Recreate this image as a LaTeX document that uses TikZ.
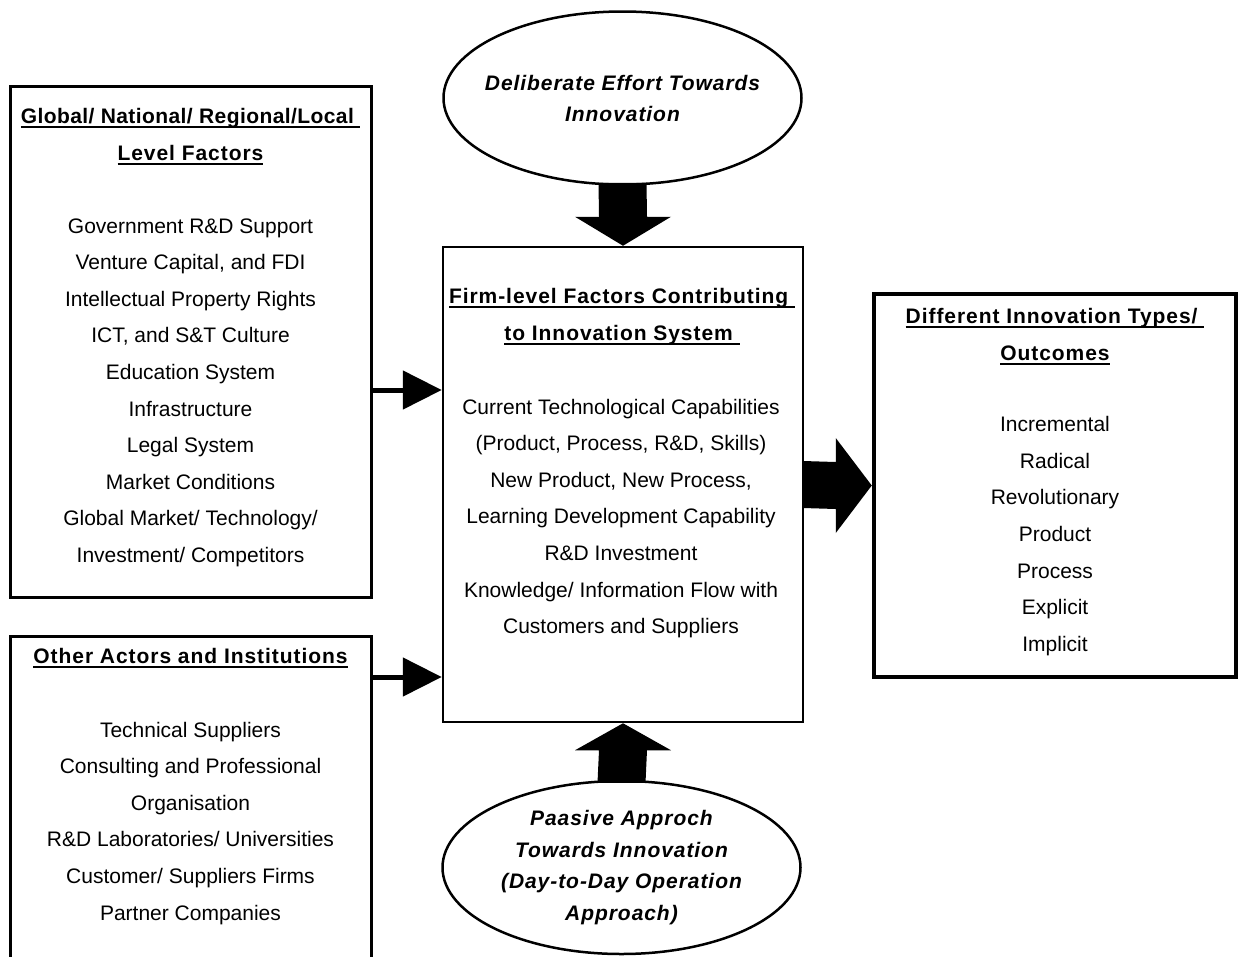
\documentclass[tikz,border=0pt]{standalone}
\usepackage{fontspec}
\setmainfont{Liberation Sans}
\newfontfamily\hdfont{Liberation Sans}[LetterSpace=4.5]
\newfontfamily\hdnarrow{Liberation Sans}[LetterSpace=2]
\usetikzlibrary{shapes.geometric,calc,arrows.meta}
\newcommand\myul[1]{\setbox0\hbox{#1}\rlap{\rule[-4.7pt]{\wd0}{2.2pt}}\box0}
\tikzset{
  box/.style={draw, rectangle, inner sep=0pt, line width=#1},
  oval/.style={draw, ellipse, inner sep=0pt, minimum width=358pt, minimum height=173pt, line width=2.5pt},
  txt/.style={inner sep=0pt, anchor=base, font=\fontsize{21}{25}\selectfont},
  hd/.style={inner sep=0pt, anchor=base, font=\fontsize{21}{25}\selectfont\hdfont\bfseries},
  hdn/.style={inner sep=0pt, anchor=base, font=\fontsize{21}{25}\selectfont\hdnarrow\bfseries},
  hdi/.style={inner sep=0pt, anchor=base, font=\fontsize{21}{25}\selectfont\hdfont\bfseries\itshape},
  thinarr/.style={line width=5pt, line cap=round, -{Triangle[length=39pt,width=38pt]}},
}
\begin{document}
\begin{tikzpicture}[x=1pt,y=-1pt]
\path[use as bounding box] (0,0) rectangle (1239,956);
\clip (0,0) rectangle (1239,956);

% boxes
\node[box=3pt, minimum width=361pt, minimum height=511pt] (lb1) at (190.5,341.5) {};
\node[box=3pt, minimum width=361pt, minimum height=364pt] (lb2) at (190.5,818) {};
\node[box=2.5pt, minimum width=360pt, minimum height=475pt] (ctr) at (623,484.5) {};
\node[box=4.5pt, minimum width=362pt, minimum height=383pt] (rb) at (1055,485.5) {};
\node[oval] (ell1) at (622.5,98) {};
\node[oval] (ell2) at (621.5,867.5) {};

% left box 1
\node[hdn] (h1a) at (190.5,123) {\myul{Global/ National/ Regional/Local\ }};
\node[hd] (h1b) at (190.5,160) {\myul{Level Factors}};
\foreach \t [count=\i] in {Government R\&D Support, {Venture Capital, and FDI}, Intellectual Property Rights, {ICT, and S\&T Culture}, Education System, Infrastructure, Legal System, Market Conditions, Global Market/ Technology/, Investment/ Competitors}
  \node[txt] (lbt\i) at (190.5,{233+36.6*(\i-1)}) {\t};

% left box 2
\node[hd] (h2a) at (190.5,663) {\myul{Other Actors and Institutions}};
\foreach \t [count=\i] in {Technical Suppliers, Consulting and Professional, Organisation, R\&D Laboratories/ Universities, Customer/ Suppliers Firms, Partner Companies}
  \node[txt] (lbb\i) at (190.5,{737+36.6*(\i-1)}) {\t};

% centre box
\node[hd] (hca) at (622,303) {\myul{Firm-level Factors Contributing\ }};
\node[hd] (hcb) at (622,340) {\myul{to Innovation System\ }};
\foreach \t [count=\i] in {Current Technological Capabilities, {(Product, Process, R\&D, Skills)}, {New Product, New Process,}, Learning Development Capability, R\&D Investment, Knowledge/ Information Flow with, Customers and Suppliers}
  \node[txt] (ct\i) at (621,{414+36.6*(\i-1)}) {\t};

% right box
\node[hd] (hra) at (1055,323) {\myul{Different Innovation Types/\ }};
\node[hd] (hrb) at (1055,360) {\myul{Outcomes}};
\foreach \t [count=\i] in {Incremental, Radical, Revolutionary, Product, Process, Explicit, Implicit}
  \node[txt] (rt\i) at (1055,{431.7+36.6*(\i-1)}) {\t};

% ellipse texts
\node[hdi] (e1a) at (622.5,90) {Deliberate Effort Towards};
\node[hdi] (e1b) at (622.5,121.7) {Innovation};
\node[hdi] (e2a) at (621.5,825) {Paasive Approch};
\node[hdi] (e2b) at (621.5,857) {Towards Innovation};
\node[hdi] (e2c) at (621.5,888.5) {(Day-to-Day Operation};
\node[hdi] (e2d) at (621.5,920) {Approach)};

% block arrows
\fill (ctr.north) -- ($(ctr.north)+(-48,-29)$) -- ($(ctr.north)+(-24,-29)$) -- ($(ell1.south)+(-24,-3)$) -- ($(ell1.south)+(24,-3)$) -- ($(ctr.north)+(24,-29)$) -- ($(ctr.north)+(48,-29)$) -- cycle;
\fill (ctr.south) -- ($(ctr.south)+(-48,27)$) -- ($(ctr.south)+(-24,27)$) -- ($(ell2.north)+(-24,3)$) -- ($(ell2.north)+(24,3)$) -- ($(ctr.south)+(24,27)$) -- ($(ctr.south)+(48,27)$) -- cycle;
\fill (rb.west) -- ($(rb.west)+(-36,-47.5)$) -- ($(rb.west)+(-36,-23.5)$) -- ($(ctr.east)+(-1,-23.5)$) -- ($(ctr.east)+(-1,23.5)$) -- ($(rb.west)+(-36,23.5)$) -- ($(rb.west)+(-36,47.5)$) -- cycle;

% thin arrows
\coordinate (y1) at (0,390);
\coordinate (y2) at (0,677);
\draw[thinarr] (lb1.east |- y1) -- (ctr.west |- y1);
\draw[thinarr] (lb2.east |- y2) -- (ctr.west |- y2);
\end{tikzpicture}
\end{document}
